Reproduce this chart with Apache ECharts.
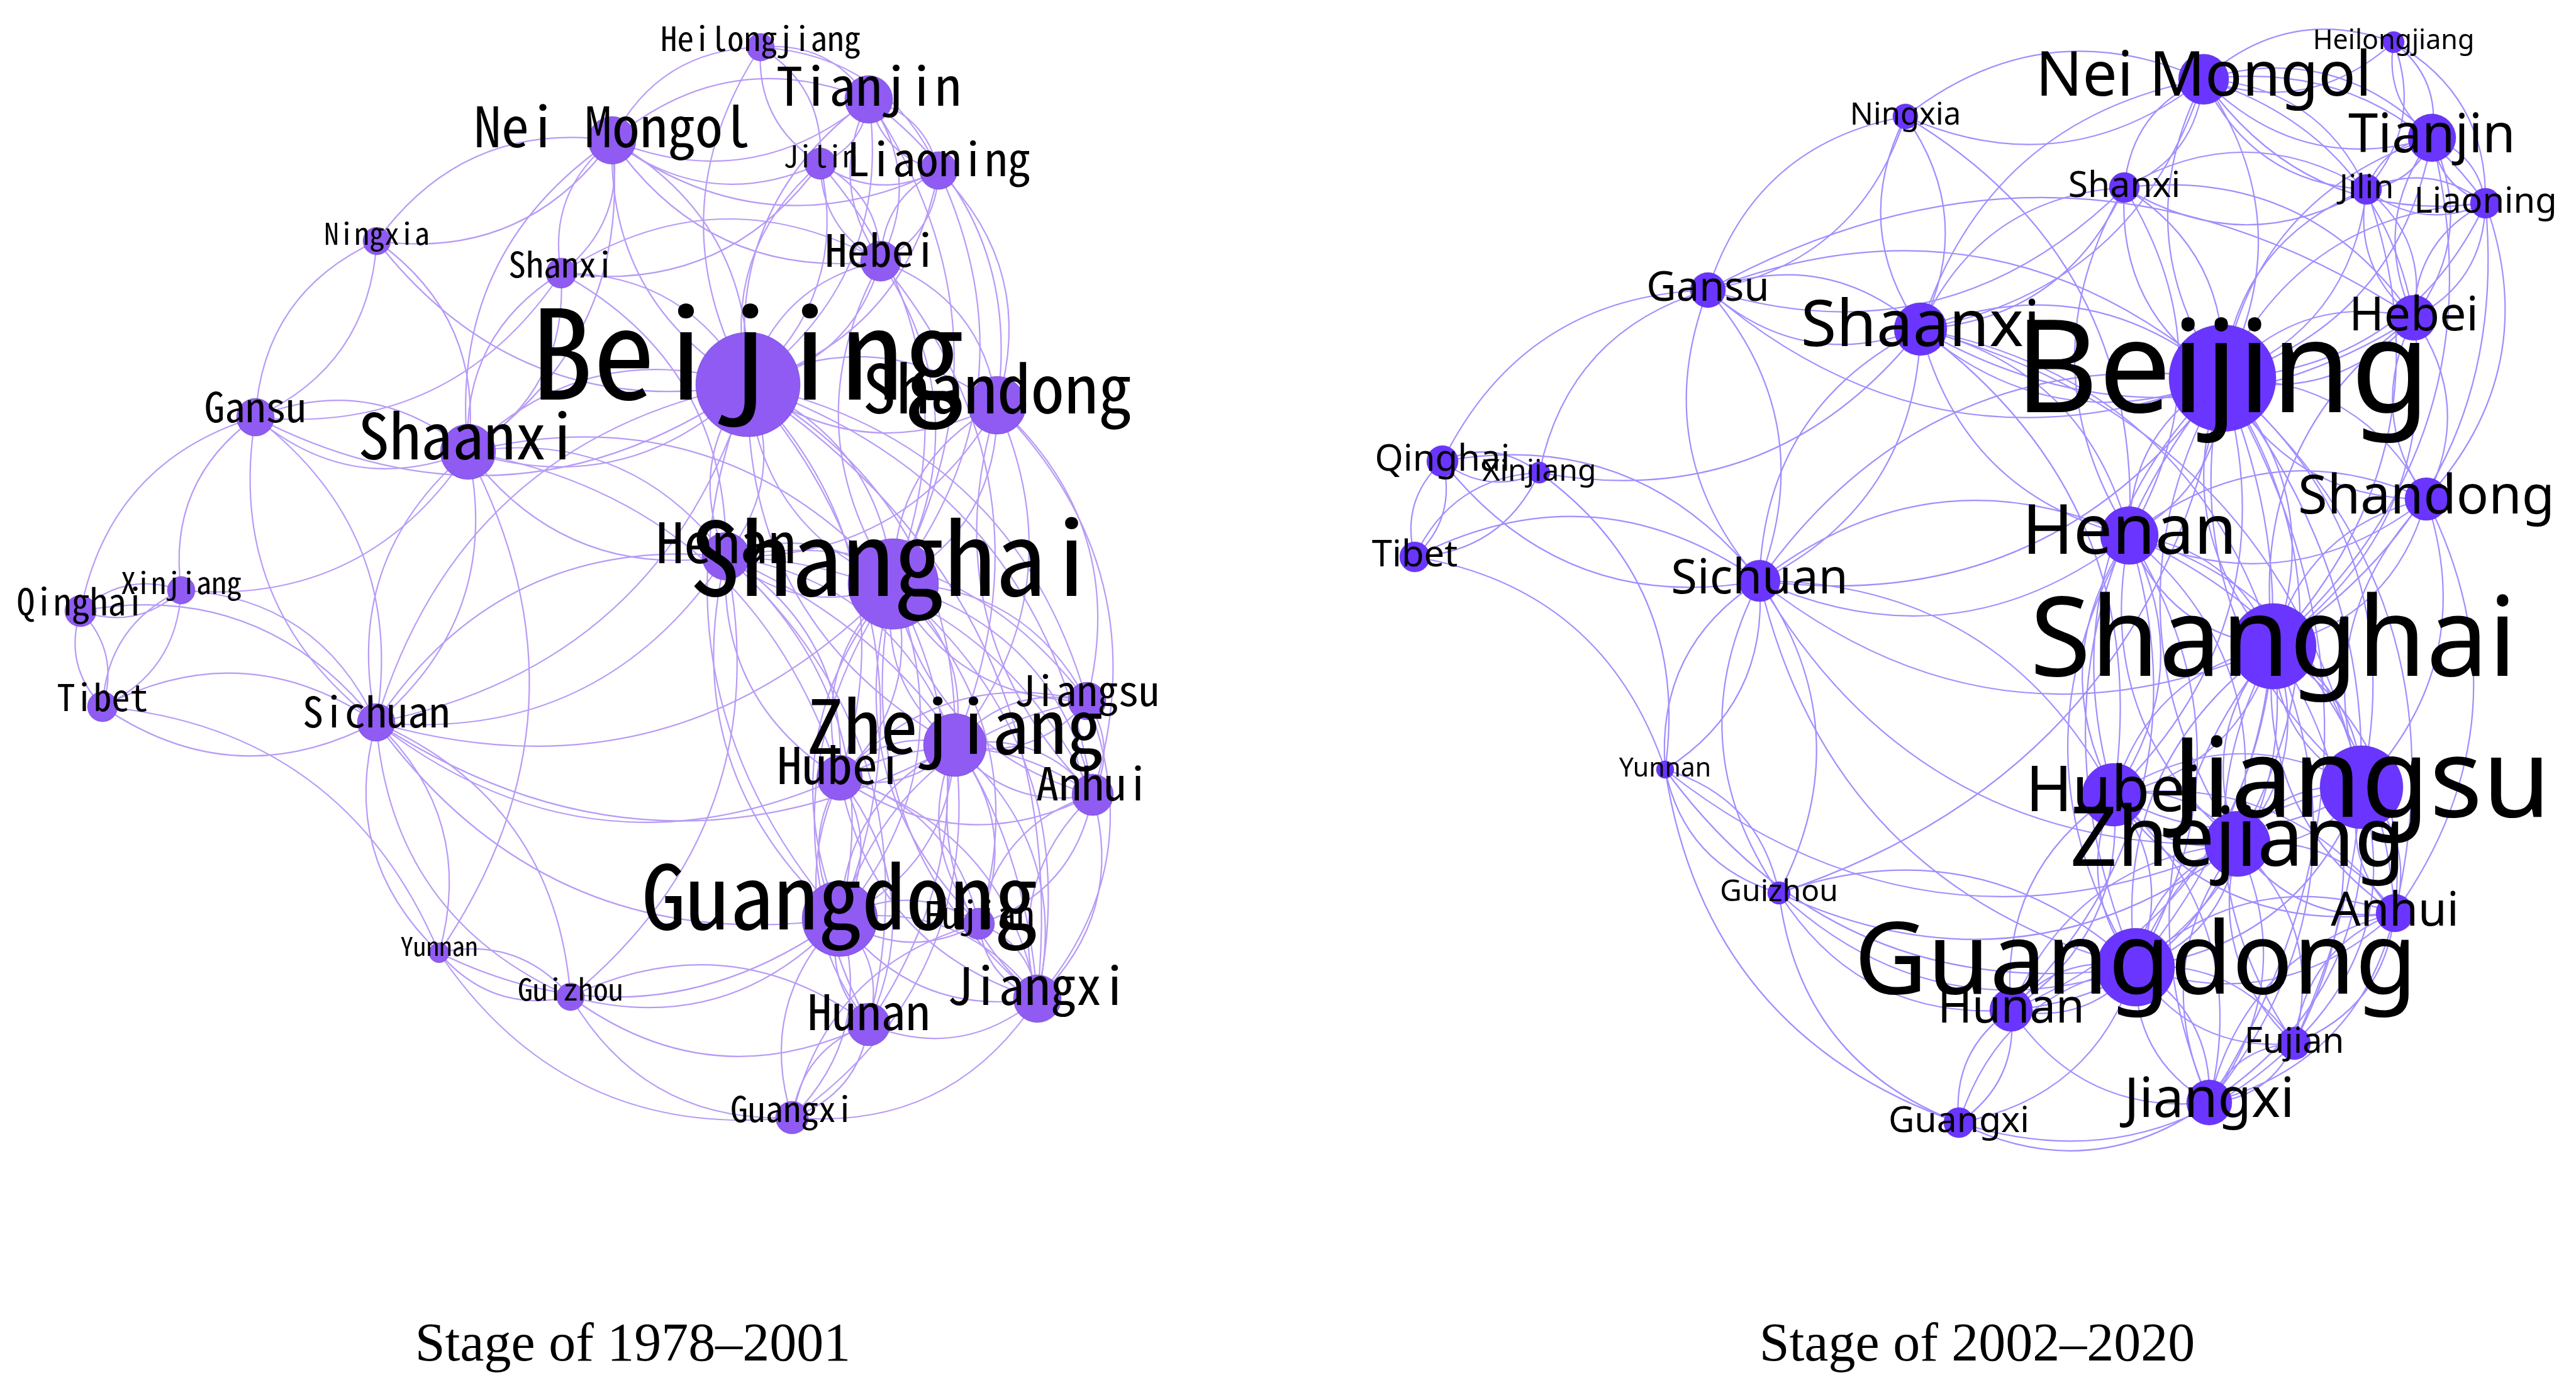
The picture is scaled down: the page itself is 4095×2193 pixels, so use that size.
<!DOCTYPE html>
<html><head><meta charset="utf-8">
<style>html,body{margin:0;background:#fff}#c{width:4095px;height:2193px}</style>
<script src="https://cdn.jsdelivr.net/npm/echarts@6/dist/echarts.min.js"></script>
</head><body><div id="c"></div>
<script>
const provinces = ["Beijing","Tianjin","Hebei","Shanxi","Nei Mongol","Liaoning","Jilin","Heilongjiang","Shanghai","Jiangsu","Zhejiang","Anhui","Fujian","Jiangxi","Shandong","Henan","Hubei","Hunan","Guangdong","Guangxi","Sichuan","Guizhou","Yunnan","Tibet","Shaanxi","Gansu","Qinghai","Ningxia","Xinjiang"];
const codes = ["BJ","TJ","HE","SX","NM","LN","JL","HL","SH","JS","ZJ","AH","FJ","JX","SD","HA","HB","HN","GD","GX","SC","GZ","YN","XZ","SN","GS","QH","NX","XJ"];

// Stage 1978-2001: layout coordinates, node weight, label size
const x1 = [1189,1381,1400,892,973,1492,1304,1209,1420,1728,1518,1737,1556,1649,1585,1154,1335,1381,1335,1259,598,907,698,163,744,406,128,599,288];
const y1 = [611,158,415,434,223,271,260,75,928,1114,1184,1263,1468,1587,644,884,1236,1628,1460,1776,1148,1584,1514,1123,718,663,971,383,938];
const w1 = [83,38,32,24,38,30,25,22,72,30,50,33,25,38,46,38,36,34,60,26,30,22,16,24,44,30,25,22,22];
const f1 = [197,84,71,56,88,73,47,53,162,66,118,72,59,82,107,89,80,78,140,56,67,48,41,58,100,65,58,48,48];

// Stage 2002-2020
const x2 = [3533,3866,3837,3377,3503,3951,3762,3805,3614,3754,3557,3807,3647,3512,3857,3385,3360,3197,3395,3114,2797,2828,2647,2249,3053,2715,2293,3029,2447];
const y2 = [601,219,505,298,126,323,301,67,1027,1251,1341,1451,1658,1752,793,851,1263,1605,1537,1784,923,1419,1223,885,523,461,733,185,751];
const w2 = [85,38,36,24,40,24,24,17,68,66,52,30,26,36,34,46,50,34,62,24,33,18,14,24,42,28,25,20,17];
const f2 = [205,85,75,57,98,56,52,43,176,176,131,74,56,87,85,110,100,74,160,57,76,48,41,58,103,65,58,49,48];

const edges1 = "QH-GS XJ-GS GS-NX NX-GS NX-NM NM-NX NX-SN BJ-NX SN-XJ SX-GS GS-SN SN-GS BJ-GS SN-BJ BJ-SN SX-HE JL-SX NM-TJ TJ-NM JL-NM LN-NM HE-NM NM-BJ BJ-NM NM-SX SX-NM NM-SN SN-NM NM-HL BJ-HL HL-TJ HL-JL JL-HL HL-LN TJ-JL TJ-LN LN-TJ LN-JL TJ-HE HE-TJ LN-HE HE-LN JL-HE HE-JL JL-BJ BJ-JL TJ-BJ BJ-TJ LN-BJ LN-SD HE-SD HE-BJ BJ-HE SX-BJ SX-SN SN-SX SX-HA SN-HA HA-SN SN-SH SN-HB QH-XJ XJ-QH XZ-QH QH-XZ XJ-XZ XZ-XJ XZ-SC SC-XZ QH-SC XJ-SC GS-SC SC-GS SN-SC SC-SN SC-BJ BJ-SC SC-HA HA-SC SH-SC HB-SC GD-SC ZJ-SC XZ-YN SC-YN YN-SC SC-GZ GZ-SC SN-YN YN-GZ GZ-YN GD-YN GX-YN GX-GZ GZ-HN GD-GZ HN-GZ HA-GZ JX-GX GX-HN HN-GX GX-GD GD-GX ZJ-GX GX-FJ JX-HN HN-GD GD-HN JX-GD GD-JX JX-ZJ ZJ-JX FJ-JX JX-FJ FJ-GD GD-FJ FJ-ZJ ZJ-FJ AH-JX JX-AH AH-FJ FJ-AH AH-ZJ ZJ-AH JS-ZJ ZJ-JS JS-AH AH-JS JS-JX HB-ZJ ZJ-HB HB-GD GD-HB HB-HN HN-HB HB-JX JX-HB HB-AH AH-HB HB-SH SH-HB HB-FJ HB-JS HA-HB HB-HA HA-GD GD-HA HA-ZJ HA-SH SH-HA HA-JS HA-AH HA-HN HA-JX SH-BJ BJ-SH SH-ZJ ZJ-SH SH-JS JS-SH SH-AH AH-SH SH-GD GD-SH SH-FJ FJ-SH SH-JX JX-SH SH-HN HN-SH SD-SH SH-SD SD-JS SD-ZJ SD-AH AH-SD SD-HA BJ-ZJ ZJ-BJ BJ-GD GD-BJ BJ-JS BJ-JX BJ-HA HA-BJ BJ-HB BJ-AH BJ-SD SD-BJ HE-SH SH-HE TJ-SH LN-SH TJ-SD JL-SH GD-ZJ ZJ-GD GD-JS HE-ZJ".split(" ");

const edges2 = "NX-NM NM-NX GS-NX NX-GS QH-GS XJ-GS NM-HL HL-NM HL-TJ TJ-HL NX-SN SN-NX NX-HA SN-NM NM-SN GS-SN SN-GS SX-GS GS-HE BJ-GS GS-BJ BJ-SN SN-BJ QH-SC SN-XJ XZ-SC SC-QH XZ-QH QH-XZ XJ-XZ XZ-XJ XZ-YN XJ-YN QH-XJ XJ-QH SC-SN SN-SC SC-BJ BJ-SC SC-HA HA-SC SH-SC SC-HB ZJ-SC GD-SC SC-YN YN-SC SC-GZ GZ-SC GS-SC SC-GS YN-GZ GZ-YN ZJ-GZ ZJ-YN BJ-GZ GD-YN GX-YN GX-GZ GZ-GD GD-GZ HN-GZ GX-GD GD-GX GX-HN HN-GX JX-GX FJ-GX JX-HN ZJ-HN HN-ZJ LN-HE HE-LN LN-SD HE-SD SD-HE SD-HA HA-SD SD-AH SD-JS JS-SD NM-TJ TJ-NM JL-NM NM-JL LN-NM NM-LN NM-BJ BJ-NM NM-SX SX-NM NM-HE JL-SX SX-JL SX-HE HE-SN SX-BJ BJ-SX SX-HA HA-SX SN-SX SX-SN JL-LN LN-JL JL-TJ TJ-JL TJ-LN LN-TJ HL-JL JL-BJ BJ-JL LN-BJ BJ-LN TJ-BJ BJ-TJ HE-BJ BJ-HE BJ-SD SD-BJ JL-HE HE-JL TJ-HE HE-TJ HL-LN JL-SH TJ-SH LN-SH HE-SH SH-HE SD-SH SH-SD SN-HA HA-SN SN-SH SN-HB SN-JS BJ-HA HA-BJ BJ-SH SH-BJ BJ-JS JS-BJ BJ-ZJ ZJ-BJ BJ-GD GD-BJ BJ-HB HB-BJ BJ-AH BJ-JX BJ-FJ HA-SH SH-HA HA-HB HB-HA HA-ZJ ZJ-HA HA-GD GD-HA HA-JS HA-AH HA-HN SH-JS JS-SH SH-ZJ ZJ-SH SH-AH AH-SH SH-GD GD-SH SH-HB HB-SH SH-FJ FJ-SH SH-JX JX-SH SH-HN JS-ZJ ZJ-JS JS-AH AH-JS JS-GD GD-JS JS-HB HB-JS JS-FJ JS-JX ZJ-AH AH-ZJ ZJ-GD GD-ZJ ZJ-HB HB-ZJ ZJ-FJ FJ-ZJ ZJ-JX JX-ZJ HB-GD GD-HB HB-HN HN-HB HB-AH AH-HB HB-JX AH-GD GD-AH AH-FJ FJ-AH AH-JX JX-AH GD-HN HN-GD GD-FJ FJ-GD GD-JX JX-GD FJ-JX JX-FJ".split(" ");

const titles = ["Stage of 1978–2001","Stage of 2002–2020"];
const titleX = [1001,3138], titleY = 2134;

const nodeStyle = [
  {fill:"#8F5BF2", edge:"#B79BF6", font:"'Noto Sans Mono CJK SC', 'DejaVu Sans Mono', monospace", lift:-0.26},
  {fill:"#6A35FF", edge:"#A28DFF", font:"'Noto Sans', sans-serif", lift:-0.02}
];

function series(xs, ys, ws, fs, es, st){
  return {
    type:"graph", coordinateSystem:"cartesian2d", layout:"none", silent:true, animation:false,
    z: 2,
    data: provinces.map((p,i)=>({
      name:p, value:[xs[i],ys[i]], symbolSize:ws[i]*2,
      label:{fontSize:fs[i], offset:[0, fs[i]*st.lift]}
    })),
    links: es.map(e=>{const [a,b]=e.split("-");return {source:provinces[codes.indexOf(a)],target:provinces[codes.indexOf(b)]};}),
    edgeSymbol:["none","none"],
    itemStyle:{color:st.fill, borderColor:"rgba(70,40,140,0.35)", borderWidth:1, opacity:1},
    lineStyle:{color:st.edge, width:2.2, curveness:0.3, opacity:1},
    label:{show:true, position:"inside", color:"#000", fontFamily:st.font, align:"center", verticalAlign:"middle"}
  };
}

const chart = echarts.init(document.getElementById("c"),null,{renderer:"canvas"});
chart.setOption({
  backgroundColor:"#fff", animation:false,
  grid:{left:0,top:0,width:4095,height:2193,containLabel:false},
  xAxis:{type:"value",min:0,max:4095,show:false},
  yAxis:{type:"value",min:0,max:2193,inverse:true,show:false},
  title:titles.map((t,i)=>({text:t,left:titleX[i],top:titleY,textAlign:"center",textVerticalAlign:"middle",
    textStyle:{fontFamily:"'Liberation Serif', serif",fontSize:86,fontWeight:"normal",color:"#000"}})),
  series:[series(x1,y1,w1,f1,edges1,nodeStyle[0]),series(x2,y2,w2,f2,edges2,nodeStyle[1])]
});
</script></body></html>
